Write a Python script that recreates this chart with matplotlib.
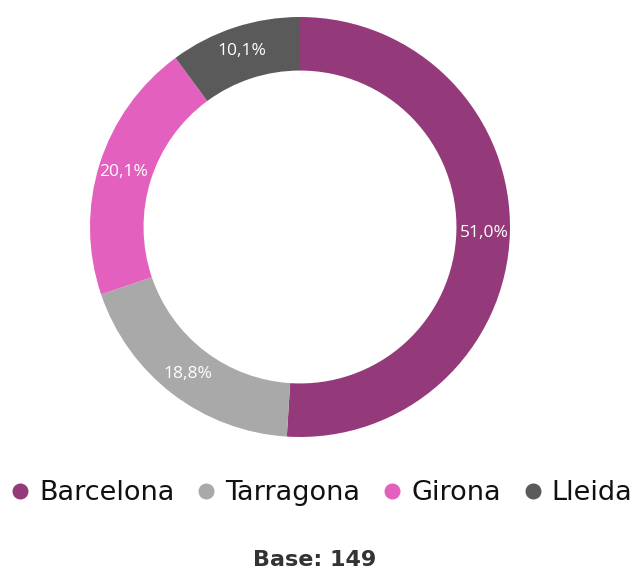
import matplotlib
matplotlib.use("Agg")
import matplotlib.pyplot as plt
from matplotlib.lines import Line2D

provinces = ["Barcelona", "Tarragona", "Girona", "Lleida"]
shares    = [51.0, 18.8, 20.1, 10.1]
labels    = ["51,0%", "18,8%", "20,1%", "10,1%"]
colors    = ["#943A7A", "#A9A9A9", "#E360BE", "#5A5A5A"]
base_n    = 149

W, H = 635, 570
fig = plt.figure(figsize=(W / 100, H / 100), dpi=100)
fig.patch.set_facecolor("white")

# donut placed in pixel coords: centre (300, 227), outer radius 210
ax = fig.add_axes([90 / W, 1 - 437 / H, 420 / W, 420 / H])

wedges, texts = ax.pie(
    shares, colors=colors, radius=1, startangle=90, counterclock=False,
    labels=labels, labeldistance=0.88,
    wedgeprops=dict(width=0.255, edgecolor="none"),
    textprops=dict(color="white", fontsize=12.5, family="Open Sans"),
)
for t in texts:
    t.set_ha("center")
    t.set_va("center")
ax.set_xlim(-1, 1)
ax.set_ylim(-1, 1)
ax.set_aspect("equal")
ax.axis("off")

handles = [Line2D([], [], marker="o", linestyle="none", markersize=10.5,
                  markerfacecolor=c, markeredgecolor=c) for c in colors]
fig.legend(handles, provinces, loc="center", bbox_to_anchor=(323 / W, 1 - 493 / H),
           ncol=4, frameon=False, fontsize=19.5, handlelength=0.5,
           handletextpad=0.45, columnspacing=0.93, labelcolor="#111111",
           borderaxespad=0, borderpad=0)

fig.text(315 / W, 1 - 560 / H, f"Base: {base_n}", ha="center", va="center",
         fontsize=16, fontweight="bold", color="#333333")

fig.savefig("out.png", dpi=100, facecolor="white")
